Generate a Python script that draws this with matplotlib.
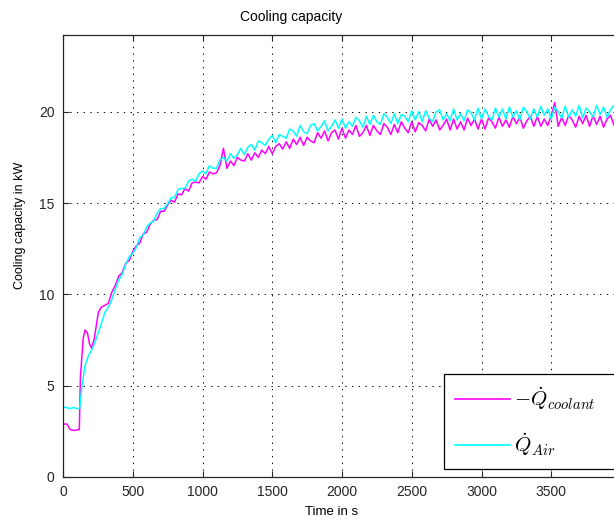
import numpy as np
import matplotlib
matplotlib.use('Agg')
from matplotlib import pyplot as plt

plt.rcParams['font.family'] = ['Liberation Sans', 'DejaVu Sans']
plt.rcParams['mathtext.fontset'] = 'cm'

# start-up phase
t_cool_start = [0, 28, 40, 50, 80, 117, 125, 145, 158, 175, 190, 205, 225, 253, 275, 300, 325, 349, 375]
q_cool_start = [2.9, 2.9, 2.75, 2.6, 2.55, 2.6, 5.5, 7.6, 8.05, 7.9, 7.3, 7.05, 7.6, 9.0, 9.3, 9.4, 9.5, 10.1, 10.5]

t_air_start = [0, 25, 50, 75, 100, 120, 133, 158, 180, 205, 230, 253, 275, 300, 325, 349, 375]
q_air_start = [3.85, 3.8, 3.75, 3.8, 3.75, 3.75, 4.8, 6.1, 6.6, 6.95, 7.4, 7.9, 8.4, 9.0, 9.3, 9.7, 10.3]

# rest of the run, one sample every 25 s from 400 s to 4000 s
t_rest = np.arange(400, 4001, 25)

q_cool_rest = [
    11.0, 11.2, 11.7, 11.85, 12.35, 12.65, 12.8, 13.3,
    13.4, 13.85, 14.05, 14.1, 14.55, 14.55, 14.9, 15.15,
    15.05, 15.5, 15.45, 15.8, 15.65, 16.1, 16.15, 16.1,
    16.45, 16.3, 16.7, 16.6, 16.65, 17.05, 18.0, 16.9,
    17.3, 17.05, 17.5, 17.35, 17.3, 17.7, 17.35, 17.75,
    17.5, 17.9, 17.7, 18.1, 17.7, 18.1, 18.25, 17.95,
    18.35, 18.0, 18.5, 18.2, 18.6, 18.15, 18.6, 18.4,
    18.3, 18.85, 18.55, 18.95, 18.4, 18.85, 19.0, 18.5,
    19.1, 18.55, 19.0, 18.75, 19.25, 18.65, 18.85, 19.25,
    18.7, 19.25, 18.95, 18.75, 19.35, 19.15, 18.75, 19.3,
    18.85, 19.45, 19.1, 18.85, 19.45, 18.9, 19.4, 19.25,
    18.95, 19.6, 19.2, 19.55, 19.0, 19.25, 19.6, 19.0,
    19.6, 19.05, 19.45, 19.0, 19.65, 19.25, 19.6, 19.05,
    19.6, 19.05, 19.65, 19.45, 19.1, 19.7, 19.2, 19.55,
    19.15, 19.75, 19.35, 19.7, 19.1, 19.5, 19.75, 19.2,
    19.75, 19.2, 19.6, 19.25, 19.8, 20.5, 19.2, 19.7,
    19.25, 19.8, 19.55, 19.15, 19.75, 19.35, 19.8, 19.2,
    19.8, 19.3, 19.75, 19.15, 19.6, 19.8, 19.25, 19.7,
    19.4,
]

q_air_rest = [
    10.8, 11.1, 11.65, 12.05, 12.25, 12.55, 13.1, 13.25,
    13.7, 13.9, 14.0, 14.45, 14.7, 14.7, 14.95, 15.3,
    15.3, 15.75, 15.8, 15.8, 16.2, 16.3, 16.2, 16.6,
    16.75, 16.6, 17.05, 16.9, 16.9, 17.35, 17.5, 17.3,
    17.7, 17.45, 17.65, 18.0, 17.65, 18.05, 18.2, 17.9,
    18.4, 18.3, 18.15, 18.5, 18.7, 18.3, 18.75, 18.65,
    18.55, 19.05, 18.95, 18.65, 19.25, 18.9, 18.8, 19.25,
    19.35, 18.95, 19.2, 19.5, 18.95, 19.2, 19.55, 19.1,
    19.6, 19.1, 19.45, 19.2, 19.7, 19.5, 19.15, 19.75,
    19.3, 19.8, 19.45, 19.3, 19.9, 19.7, 19.35, 19.9,
    19.35, 19.85, 19.75, 19.45, 20.05, 19.55, 20.0, 19.45,
    20.05, 19.65, 19.45, 20.0, 20.1, 19.55, 19.9, 19.5,
    20.15, 19.55, 19.9, 19.5, 20.1, 19.95, 19.55, 20.2,
    19.6, 20.15, 19.75, 19.55, 20.2, 19.7, 20.15, 19.6,
    20.25, 19.7, 20.05, 19.55, 20.25, 20.0, 19.6, 20.15,
    19.7, 20.3, 19.8, 20.15, 19.6, 20.25, 20.0, 19.65,
    20.3, 19.7, 20.1, 19.75, 20.35, 19.65, 20.2, 20.0,
    19.7, 20.35, 19.85, 20.25, 19.7, 20.1, 20.35, 19.75,
    20.2,
]

t_cool = np.concatenate([t_cool_start, t_rest])
q_cool = np.concatenate([q_cool_start, q_cool_rest])
t_air = np.concatenate([t_air_start, t_rest])
q_air = np.concatenate([q_air_start, q_air_rest])

W, H = 614, 525
fig = plt.figure(figsize=(W / 100, H / 100), dpi=100)
# axes run past the right edge of the picture, like the cropped original
ax = fig.add_axes([63 / W, 48 / H, 558 / W, 442 / H])

ax.plot(t_cool, q_cool, color='#ff00ff', lw=1.1, label=r'$-\dot{Q}_{coolant}$')
ax.plot(t_air, q_air, color='#00ffff', lw=1.1, label=r'$\dot{Q}_{Air}$')

ax.set_xlim(0, 4000)
ax.set_ylim(0, 24.2)
ax.set_xticks(range(0, 3501, 500))
ax.set_yticks([0, 5, 10, 15, 20])

ax.grid(True, color='k', lw=0.7, linestyle=(0, (1.4, 5.5)))
ax.tick_params(direction='in', length=4, width=0.8, top=True, right=True,
               labelsize=10, pad=6, colors='#262626')
for s in ax.spines.values():
    s.set_linewidth(0.9)
    s.set_color('#262626')

fig.text(291 / W, 1 - 17 / H, 'Cooling capacity', ha='center', va='center', fontsize=10)
fig.text(332 / W, 1 - 512 / H, 'Time in s', ha='center', va='center', fontsize=9.5)
fig.text(20 / W, 1 - 225 / H, 'Cooling capacity in kW', ha='center', va='center',
         rotation=90, fontsize=9)

leg = ax.legend(loc='upper left', bbox_to_anchor=(444 / W, 0, 300 / W, 1 - 374 / H),
                bbox_transform=fig.transFigure, mode='expand', borderaxespad=0,
                fontsize=15, fancybox=False, framealpha=1, edgecolor='k',
                handlelength=2.6, handletextpad=0.2, borderpad=0.55, labelspacing=0.9)
leg.get_frame().set_linewidth(0.9)
for h in leg.get_lines():
    h.set_linewidth(1.2)

fig.savefig('out.png', dpi=100)
